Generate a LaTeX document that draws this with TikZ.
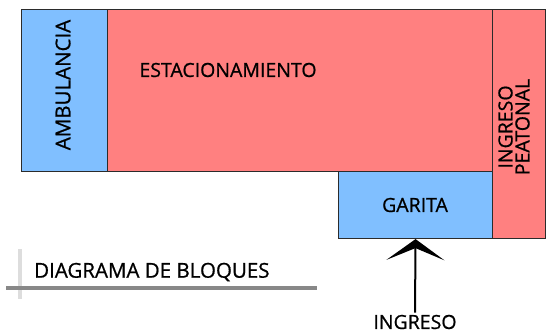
\documentclass[tikz,border=0pt]{standalone}
\usepackage{fontspec}
\setmainfont{Open Sans}
\newfontfamily\planfont{Open Sans}[FakeBold=0.8]
\usepackage{tikz}
\usetikzlibrary{arrows.meta,positioning}
\definecolor{PlanBlue}{HTML}{80BFFF}
\definecolor{PlanRed}{HTML}{FF8080}
\definecolor{PlanEdge}{HTML}{2B2B2B}
\definecolor{PlanGray}{HTML}{888888}
\definecolor{PlanLight}{HTML}{DDDDDD}
\tikzset{
  zone/.style={draw=PlanEdge,line width=1.1pt,inner sep=0pt,anchor=north west},
  bluezone/.style={zone,fill=PlanBlue},
  redzone/.style={zone,fill=PlanRed},
  tag/.style={font=\planfont\fontsize{19.5}{21}\selectfont,inner sep=0pt,align=center},
  bigtag/.style={tag,font=\planfont\fontsize{20.5}{22}\selectfont},
  entry/.style={-{Stealth[length=21pt,width=58pt,inset=12pt]},line width=2pt,draw=black}
}

\begin{document}
\begin{tikzpicture}[x=1pt,y=1pt]
  \useasboundingbox (0,0) rectangle (550,333);
  % zones
  \node[bluezone,minimum width=86pt,minimum height=162pt] (amb) at (21,324) {};
  \node[redzone,minimum width=385pt,minimum height=162pt] (est) at (107,324) {};
  \node[redzone,minimum width=53pt,minimum height=229pt] (peat) at (492,324) {};
  \node[bluezone,minimum width=154pt,minimum height=67pt] (gar) at (338,162) {};
  % labels
  \node[bigtag,rotate=90] (ambtxt) at (63,248) {AMBULANCIA};
  \node[tag] (esttxt) at (228,263) {ESTACIONAMIENTO};
  \node[tag,rotate=90] (peattxt) at (514,206) {INGRESO\\[-4pt]PEATONAL};
  \node[tag] (gartxt) at (415,128) {GARITA};
  \node[tag] (ingtxt) at (415,11) {INGRESO};
  \draw[entry] (ingtxt.north) ++(0,2) coordinate (ingtop) -- (gar.south);
  % caption
  \draw[PlanLight,line width=4pt] (20,84) -- (20,34);
  \draw[PlanGray,line width=4pt] (6,45) -- (317,45);
  \node[bigtag,anchor=west] (cap) at (34,61) {DIAGRAMA DE BLOQUES};
\end{tikzpicture}
\end{document}
